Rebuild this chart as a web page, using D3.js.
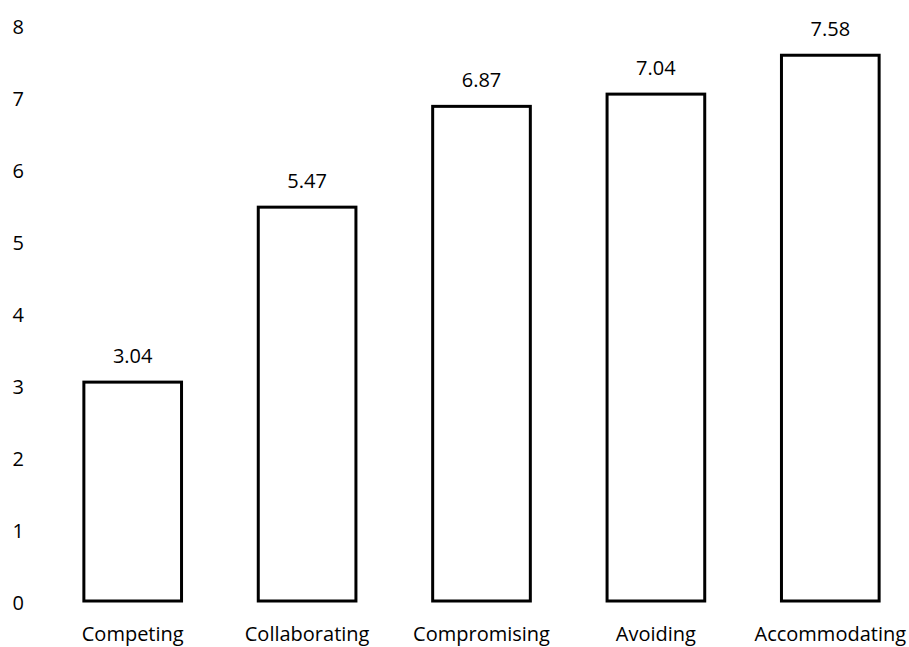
<!DOCTYPE html>
<html>
<head>
<meta charset="utf-8">
<script src="https://cdn.jsdelivr.net/npm/d3@7"></script>
<style>
  body { margin: 0; background: #fff; }
  text { font-family: "Open Sans", sans-serif; fill: #000; }
</style>
</head>
<body>
<div id="chart"></div>
<script>
// data
var categories = ["Competing", "Collaborating", "Compromising", "Avoiding", "Accommodating"];
var values = [3.04, 5.47, 6.87, 7.04, 7.58];
var yTicks = [0, 1, 2, 3, 4, 5, 6, 7, 8];

var svgWidth = 909;
var svgHeight = 647;
var fontSize = "20px";

var svg = d3.select("#chart")
  .append("svg")
  .attr("width", svgWidth)
  .attr("height", svgHeight);

var x = d3.scaleBand()
  .domain(categories)
  .range([45.5, 917.5])
  .paddingInner(0.44)
  .paddingOuter(0.22);

var y = d3.scaleLinear()
  .domain([0, 8])
  .range([601, 25]);

// y tick labels, no axis line
var yAxis = d3.axisLeft(y).tickValues(yTicks).tickSize(0).tickPadding(0);
var gy = svg.append("g")
  .attr("transform", "translate(24, 2)")
  .call(yAxis);
gy.select(".domain").remove();
gy.selectAll("text")
  .attr("text-anchor", "end")
  .style("font-size", fontSize)
  .style("font-family", "'Open Sans', sans-serif");

// category labels
var xAxis = d3.axisBottom(x).tickSize(0).tickPadding(0);
var gx = svg.append("g")
  .attr("transform", "translate(0, 627)")
  .call(xAxis);
gx.select(".domain").remove();
gx.selectAll("text")
  .style("font-size", fontSize)
  .style("font-family", "'Open Sans', sans-serif");

var data = categories.map(function (c, i) { return { cat: c, val: values[i] }; });

svg.selectAll("rect.bar")
  .data(data)
  .enter()
  .append("rect")
  .attr("class", "bar")
  .attr("x", d => x(d.cat))
  .attr("y", d => y(d.val))
  .attr("width", x.bandwidth())
  .attr("height", d => y(0) - y(d.val))
  .attr("fill", "#fff")
  .attr("stroke", "#000")
  .attr("stroke-width", 3);

svg.selectAll("text.val")
  .data(data)
  .enter()
  .append("text")
  .attr("class", "val")
  .attr("x", d => x(d.cat) + x.bandwidth() / 2)
  .attr("y", d => y(d.val) - 19)
  .attr("text-anchor", "middle")
  .style("font-size", fontSize)
  .text(d => d.val.toFixed(2));
</script>
</body>
</html>
